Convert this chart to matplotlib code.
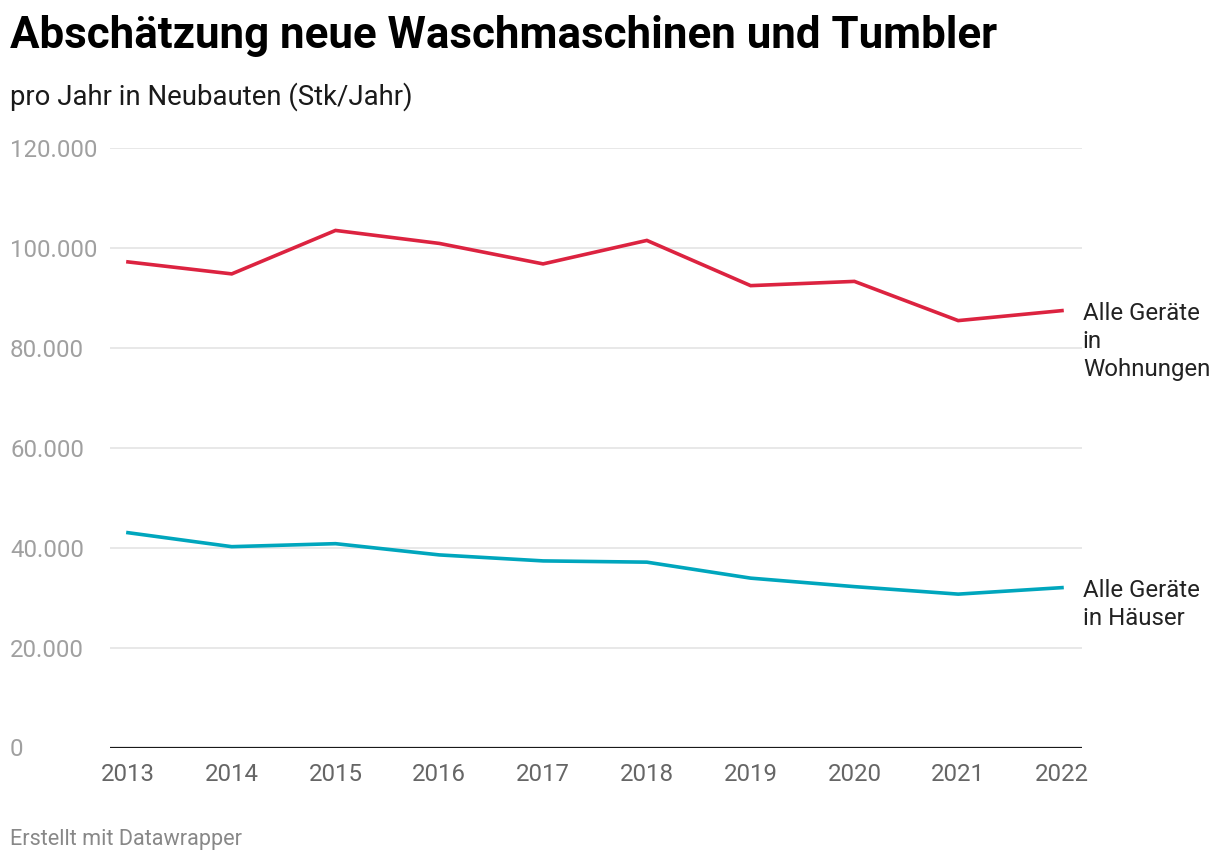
import numpy as np
import matplotlib
matplotlib.use("Agg")
import matplotlib.pyplot as plt
from matplotlib.ticker import FuncFormatter

plt.rcParams['font.family'] = ['Roboto', 'DejaVu Sans']

# Daten
years = [2013, 2014, 2015, 2016, 2017, 2018, 2019, 2020, 2021, 2022]
wohnungen = [97200, 94800, 103500, 100900, 96800, 101500, 92450, 93300, 85450, 87450]
haeuser = [43000, 40200, 40800, 38550, 37350, 37100, 33900, 32200, 30700, 32000]
label_wohnungen = "Alle Geräte\nin\nWohnungen"
label_haeuser = "Alle Geräte\nin Häuser"
y_ticks = [0, 20000, 40000, 60000, 80000, 100000, 120000]

red = "#dc2340"
teal = "#00a6bd"

fig = plt.figure(figsize=(12.2, 8.64), dpi=100)
ax = fig.add_axes([110 / 1220, 1 - 747.5 / 864, 972 / 1220, 599.5 / 864])

ax.plot(years, wohnungen, color=red, lw=2.6, solid_joinstyle='miter')
ax.plot(years, haeuser, color=teal, lw=2.6, solid_joinstyle='miter')

ax.set_xlim(2012.827, 2022.193)
ax.set_ylim(0, 120000)

# Gitter
for t in y_ticks[1:]:
    ax.axhline(t, color="#e2e2e2", lw=1.1, zorder=0)
ax.axhline(0, color="#1a1a1a", lw=1.6, zorder=3)

for s in ax.spines.values():
    s.set_visible(False)

ax.set_yticks(y_ticks)
ax.yaxis.set_major_formatter(FuncFormatter(lambda v, p: f"{int(v):,}".replace(",", ".")))
ax.tick_params(axis='y', length=0, labelsize=17.3, labelcolor="#a0a0a0", pad=0)
for lab in ax.get_yticklabels():
    lab.set_horizontalalignment('left')
    lab.set_x(-100 / 972)

ax.set_xticks(years)
ax.tick_params(axis='x', length=0, labelsize=17.3, labelcolor="#666666", pad=11)

# Linienbeschriftungen
for lab_text, vals in [(label_wohnungen, wohnungen), (label_haeuser, haeuser)]:
    ax.annotate(lab_text, (years[-1], vals[-1]), xytext=(15, 6.5),
                textcoords='offset points', ha='left', va='top', fontsize=17.3,
                color="#222222", linespacing=1.3, annotation_clip=False)

fig.text(10 / 1220, 1 - 36 / 864, "Abschätzung neue Waschmaschinen und Tumbler",
         fontsize=31.6, fontweight='bold', color="#000000", va='center', ha='left')
fig.text(10 / 1220, 1 - 97 / 864, "pro Jahr in Neubauten (Stk/Jahr)",
         fontsize=19.8, color="#1a1a1a", va='center', ha='left')
fig.text(10 / 1220, 1 - 840 / 864, "Erstellt mit Datawrapper",
         fontsize=15.6, color="#888888", va='center', ha='left')

fig.savefig("out.png", dpi=100, facecolor="white")
